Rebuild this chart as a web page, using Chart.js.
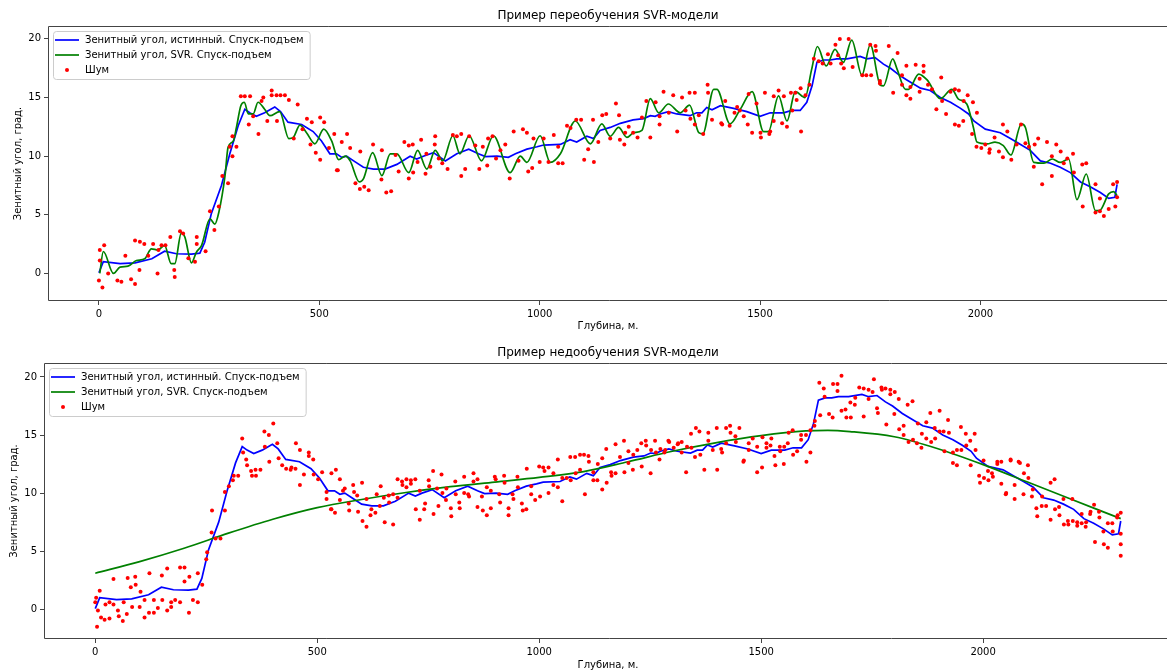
<!DOCTYPE html>
<html>
<head>
<meta charset="utf-8">
<script src="https://cdn.jsdelivr.net/npm/chart.js@4.4.0/dist/chart.umd.min.js"></script>
<style>
  html, body { margin: 0; padding: 0; background: #fff; overflow: hidden; }
  canvas { display: block; }
</style>
</head>
<body>
<canvas id="overChart" width="1172" height="336"></canvas>
<canvas id="underChart" width="1176" height="335"></canvas>
<script>
// axis ticks
var depthTicks = [0, 500, 1000, 1500, 2000];
var angleTicks = [0, 5, 10, 15, 20];

// true zenith angle along the well
var trueDepth = [0, 10, 48, 82, 120, 149, 176, 210, 229, 240, 255, 278, 297, 316, 331, 342, 357, 376, 399, 412,
  429, 460, 486, 505, 524, 539, 551, 562, 578, 600, 623, 649, 676, 706, 721, 736, 759, 786, 812, 839,
  861, 877, 903, 929, 945, 971, 994, 1009, 1047, 1069, 1084, 1107, 1122, 1137, 1160, 1183, 1212, 1236, 1251, 1262,
  1273, 1292, 1311, 1341, 1356, 1368, 1379, 1391, 1410, 1440, 1470, 1500, 1523, 1553, 1572, 1591, 1606, 1618, 1629, 1644,
  1659, 1674, 1697, 1727, 1742, 1761, 1780, 1796, 1818, 1833, 1864, 1886, 1909, 1932, 1954, 1973, 1985, 2011, 2045, 2068,
  2091, 2113, 2136, 2159, 2181, 2204, 2227, 2249, 2272, 2291, 2305, 2310];
var trueAngle = [0.06, 1.0, 0.83, 0.9, 1.25, 1.9, 1.68, 1.64, 1.73, 2.66, 5.1, 7.5, 10.2, 12.6, 14.0, 13.7, 13.4, 13.7, 14.2, 13.8,
  12.9, 12.7, 12.1, 11.3, 10.2, 10.2, 9.9, 10.0, 9.6, 9.05, 8.9, 8.9, 9.3, 10.0, 9.75, 10.0, 10.3, 9.6, 10.2, 10.6,
  10.2, 9.96, 10.0, 9.9, 10.2, 10.6, 10.8, 10.95, 11.0, 11.4, 11.2, 11.7, 11.5, 12.2, 12.45, 12.8, 13.1, 13.2, 13.45, 13.4,
  13.6, 13.8, 13.6, 13.45, 13.7, 13.7, 14.15, 13.96, 14.3, 14.07, 13.8, 13.4, 13.7, 13.7, 13.9, 13.9, 14.6, 16.0, 18.0, 18.2,
  18.2, 18.3, 18.3, 18.5, 18.3, 18.4, 17.85, 17.5, 16.85, 16.5, 15.8, 15.6, 15.0, 14.6, 14.1, 13.6, 13.0, 12.3, 12.0, 11.5,
  11.0, 10.5, 9.6, 9.4, 9.05, 8.6, 7.8, 7.4, 6.9, 6.4, 6.5, 7.6];

// SVR fit, overfitted model
var svrOverDepth = [2, 10, 33, 48, 66, 85, 104, 119, 134, 149, 164, 172, 187, 195, 210, 221, 233, 252, 263, 272,
  286, 293, 305, 312, 322, 330, 339, 350, 361, 376, 388, 410, 431, 441, 456, 471, 490, 510, 528, 544,
  559, 570, 591, 600, 621, 642, 661, 676, 703, 723, 744, 763, 780, 803, 819, 840, 868, 895, 933, 956,
  971, 1001, 1024, 1047, 1081, 1115, 1141, 1160, 1179, 1198, 1213, 1232, 1251, 1270, 1292, 1319, 1340, 1361, 1370, 1395,
  1402, 1432, 1455, 1482, 1508, 1519, 1542, 1561, 1580, 1602, 1617, 1630, 1650, 1670, 1689, 1708, 1731, 1750, 1773, 1780,
  1801, 1811, 1830, 1837, 1860, 1879, 1909, 1935, 1950, 1969, 1984, 1992, 2015, 2033, 2052, 2069, 2093, 2102, 2121, 2144,
  2163, 2181, 2200, 2219, 2240, 2261, 2270, 2291, 2302, 2310];
var svrOverAngle = [0.0, 1.87, 0.0, 0.54, 0.62, 1.1, 1.25, 2.1, 2.0, 2.4, 0.83, 0.83, 3.46, 3.1, 0.9, 1.8, 2.4, 4.65, 4.2, 5.2,
  8.3, 10.75, 11.3, 12.45, 14.3, 14.6, 13.6, 13.6, 14.6, 14.0, 13.45, 13.8, 11.5, 11.6, 12.65, 12.0, 11.05, 12.3, 11.3, 9.7,
  10.0, 9.6, 7.8, 8.06, 10.3, 8.34, 10.2, 10.2, 8.6, 10.5, 8.9, 10.5, 9.6, 11.74, 10.2, 11.74, 9.6, 11.74, 8.6, 10.0,
  9.47, 11.74, 9.47, 10.2, 13.0, 11.05, 12.75, 11.7, 12.45, 11.6, 12.0, 12.2, 14.9, 13.7, 14.45, 13.7, 14.35, 12.0, 11.9, 15.7,
  15.7, 12.75, 14.0, 15.5, 12.1, 12.1, 15.15, 13.0, 15.5, 15.0, 17.4, 19.35, 17.7, 19.1, 18.0, 19.9, 16.9, 19.5, 16.05, 16.0,
  18.3, 17.4, 15.7, 15.7, 17.0, 16.5, 14.9, 15.7, 14.87, 14.45, 12.45, 11.2, 11.05, 11.2, 10.9, 10.1, 12.75, 12.45, 9.47, 9.4,
  9.76, 9.47, 9.76, 6.3, 8.48, 5.36, 5.36, 6.78, 6.98, 6.64];

// SVR fit, underfitted model
var svrUnderDepth = [0, 100, 200, 300, 400, 500, 600, 700, 800, 900, 1000, 1100, 1200, 1300, 1400, 1500, 1600, 1650, 1700, 1800,
  1900, 2000, 2100, 2200, 2310];
var svrUnderAngle = [3.1, 4.1, 5.25, 6.55, 7.75, 8.75, 9.45, 10.05, 10.55, 10.95, 11.35, 11.85, 12.7, 13.6, 14.35, 14.95, 15.35, 15.4, 15.3, 14.85,
  13.8, 12.45, 10.95, 9.45, 7.8];

// noisy measurements [depth, angle]
var noiseOver = [
  [0,-0.6],[8,-1.2],[2,1.1],[2,2.0],[12,2.4],[21,0.0],[42,-0.6],[51,-0.7],[60,1.5],[73,-0.5],[82,-0.9],[82,2.8],[92,0.3],[93,2.7],[103,2.5],
  [112,1.5],[123,2.5],[133,0.0],[135,2.0],[142,2.4],[151,2.4],[162,3.1],[171,0.3],[172,-0.3],[184,3.6],[191,3.4],[203,1.3],[218,1.0],[222,3.1],
  [222,2.5],[242,1.9],[252,5.3],[262,3.7],[272,5.7],[280,8.3],[293,7.7],[297,10.8],[303,10.0],[303,11.7],[312,10.8],[322,15.1],[331,15.1],
  [343,15.1],[340,12.7],[350,13.4],[362,11.9],[369,14.7],[373,15.0],[382,13.0],[392,15.6],[392,15.2],[403,15.2],[404,13.0],[412,15.2],[422,15.2],
  [431,14.8],[442,11.5],[451,14.4],[462,12.3],[472,13.2],[480,11.0],[483,12.9],[492,10.3],[502,9.7],[502,13.3],[511,12.9],[522,10.7],[534,11.9],
  [540,8.8],[542,8.8],[551,11.2],[563,11.9],[570,10.7],[582,7.7],[592,7.2],[593,10.4],[602,7.4],[612,7.1],[622,11.0],[642,10.5],[641,8.0],
  [652,6.9],[663,7.0],[673,10.1],[680,8.7],[693,11.2],[703,10.9],[703,8.1],[712,11.0],[713,8.6],[723,9.5],[731,11.4],[741,8.5],[743,10.2],
  [752,9.1],[762,11.0],[763,11.7],[771,9.8],[779,9.4],[791,8.9],[803,11.8],[812,11.7],[822,11.9],[822,8.3],[831,8.9],[840,11.7],[854,10.9],
  [863,8.9],[871,10.8],[881,9.2],[883,11.5],[893,11.7],[901,9.8],[911,10.5],[922,11.0],[932,8.1],[941,12.1],[952,9.6],[962,12.3],[971,12.0],
  [974,8.7],[983,9.0],[986,11.5],[1000,9.5],[1009,11.5],[1020,9.5],[1032,11.8],[1042,9.4],[1042,10.8],[1052,9.4],[1062,12.6],[1070,12.4],
  [1083,13.1],[1094,13.1],[1101,9.7],[1110,10.6],[1121,13.1],[1123,9.5],[1133,11.2],[1142,13.5],[1151,13.6],[1160,11.5],[1173,14.5],[1180,13.5],
  [1182,11.4],[1192,11.0],[1194,12.0],[1202,12.5],[1212,12.0],[1222,11.6],[1232,13.3],[1242,14.7],[1251,11.6],[1263,14.6],[1272,12.7],[1272,13.4],
  [1281,15.5],[1293,13.7],[1303,15.2],[1312,12.1],[1323,15.0],[1331,13.9],[1340,15.4],[1342,13.2],[1352,15.4],[1352,12.7],[1361,13.5],[1371,11.9],
  [1381,16.1],[1382,15.4],[1391,13.1],[1412,12.8],[1414,12.7],[1421,14.7],[1431,12.6],[1442,13.7],[1448,14.2],[1454,13.9],[1463,13.4],[1472,12.7],
  [1474,15.3],[1482,12.0],[1492,14.5],[1501,12.0],[1502,11.6],[1511,15.4],[1521,11.9],[1523,12.1],[1531,15.1],[1531,13.0],[1542,15.6],[1550,12.8],
  [1554,15.1],[1561,12.5],[1570,15.4],[1573,13.9],[1580,15.4],[1583,14.8],[1592,15.8],[1593,12.1],[1603,15.2],[1612,16.1],[1622,18.3],[1633,18.1],
  [1642,17.9],[1654,18.7],[1660,17.9],[1671,19.5],[1677,18.6],[1681,20.0],[1684,17.9],[1690,17.5],[1701,20.0],[1710,17.6],[1732,16.9],[1741,16.9],
  [1752,16.9],[1750,19.5],[1762,19.4],[1763,19.0],[1772,16.4],[1772,16.2],[1792,19.4],[1802,15.4],[1812,18.8],[1822,16.9],[1822,16.1],[1832,17.7],
  [1832,15.2],[1841,14.9],[1841,15.9],[1853,17.8],[1862,15.5],[1862,16.6],[1871,17.7],[1871,17.2],[1881,16.1],[1890,15.7],[1900,14.0],[1911,16.7],
  [1913,14.7],[1922,13.6],[1932,15.5],[1942,15.7],[1942,12.7],[1951,15.6],[1951,12.6],[1961,13.0],[1962,14.7],[1971,15.2],[1981,11.9],[1983,14.6],
  [1992,13.7],[1991,10.8],[2002,10.7],[2011,11.0],[2021,10.6],[2020,10.3],[2032,11.6],[2042,10.4],[2051,12.7],[2051,9.9],[2061,12.1],[2070,9.7],
  [2082,11.0],[2092,12.7],[2102,11.1],[2110,10.8],[2121,9.1],[2123,11.0],[2131,11.5],[2140,7.6],[2151,11.2],[2162,10.0],[2162,8.3],[2172,11.0],
  [2182,10.4],[2189,9.4],[2197,9.8],[2210,10.2],[2212,8.6],[2231,9.3],[2232,5.7],[2240,9.4],[2261,7.6],[2261,5.2],[2271,6.4],[2271,5.3],
  [2280,4.9],[2291,5.5],[2301,7.6],[2306,5.7],[2310,7.8],[2310,6.5]
];
var noiseUnder = [
  [0,0.6],[2,1.0],[6,-0.1],[4,-1.5],[10,1.6],[13,-0.7],[21,-0.9],[23,0.4],[32,-0.8],[32,0.6],[41,2.6],[41,0.4],[51,-0.1],[53,-0.6],[62,-1.0],
  [64,0.6],[71,-0.4],[73,2.7],[80,1.9],[83,0.2],[90,2.8],[91,2.1],[102,1.5],[100,0.2],[111,0.8],[111,-0.7],[121,-0.3],[122,3.1],[132,0.8],
  [132,-0.3],[141,0.1],[150,2.9],[151,0.8],[162,3.5],[162,-0.1],[171,0.6],[171,0.2],[180,0.8],[191,3.6],[191,0.6],[201,3.6],[201,2.4],[212,2.8],
  [211,-0.3],[220,0.8],[231,3.1],[231,0.6],[241,2.1],[250,4.3],[252,4.9],[262,6.6],[263,8.5],[271,6.1],[282,6.1],[292,8.5],[292,10.1],[301,10.6],
  [310,11.1],[312,11.5],[322,11.5],[331,14.7],[333,13.5],[340,12.9],[342,12.4],[351,11.9],[353,11.5],[361,12.0],[362,11.5],[372,12.0],[381,15.3],
  [382,14.0],[391,15.0],[392,12.7],[401,16.0],[410,14.3],[413,13.0],[421,12.4],[430,12.1],[440,12.0],[442,12.2],[452,14.3],[451,12.1],[461,13.7],
  [461,10.7],[470,11.6],[481,13.5],[481,13.2],[491,12.9],[492,11.6],[502,11.2],[511,11.8],[521,10.1],[521,9.5],[531,8.6],
  [532,11.7],[532,8.6],[540,8.3],[542,12.0],[551,11.2],[551,9.4],[558,10.2],[562,10.4],[571,9.1],[572,8.5],[581,10.7],[583,10.1],[590,9.8],
  [592,8.4],[601,10.9],[602,7.6],[611,9.5],[611,7.1],[620,8.1],[622,8.6],[631,8.3],[634,9.9],[641,8.9],[643,10.6],[650,9.6],[652,7.5],[661,9.8],
  [662,9.2],[671,7.3],[671,9.9],[681,11.2],[681,9.6],[691,11.0],[692,10.7],[701,11.2],[701,10.5],[711,11.1],[711,10.8],[721,11.2],[722,8.6],
  [731,10.2],[731,7.7],[741,8.6],[743,9.1],[751,11.1],[752,10.6],[761,11.9],[762,8.2],[770,10.4],[773,8.9],[780,11.6],[782,10.0],[790,9.4],
  [791,10.4],[801,8.7],[802,8.0],[811,11.0],[812,9.9],[820,9.2],[821,8.7],[831,11.4],[831,10.0],[840,9.9],[842,9.7],[852,11.7],[852,11.0],
  [861,8.8],[861,11.2],[871,9.7],[873,8.5],[882,10.5],[882,8.1],[891,10.2],[891,8.7],[900,11.4],[902,11.2],[910,9.9],[912,9.2],[921,11.5],
  [922,10.9],[931,8.7],[931,8.1],[940,9.9],[942,9.5],[951,11.4],[952,10.5],[961,9.1],[963,8.5],[972,12.1],[971,8.6],[982,10.6],[982,9.9],
  [991,9.4],[1000,12.3],[1002,9.7],[1009,12.2],[1012,11.9],[1021,12.2],[1021,10.0],[1032,11.7],[1032,10.7],[1042,12.9],[1042,10.5],[1052,9.3],
  [1052,11.3],[1062,11.3],[1070,13.1],[1071,11.1],[1081,13.1],[1082,11.7],[1092,13.3],[1092,12.0],[1101,13.3],[1103,9.9],[1111,13.2],[1112,12.7],
  [1122,11.1],[1122,11.8],[1131,11.1],[1132,12.5],[1142,13.0],[1142,10.3],[1151,13.8],[1152,10.9],[1162,11.8],[1163,11.5],[1172,11.7],[1172,14.2],
  [1182,13.1],[1191,14.5],[1192,11.8],[1201,13.6],[1201,12.6],[1211,12.0],[1212,13.3],[1221,13.7],[1230,14.3],[1231,12.3],[1240,14.5],[1241,14.1],
  [1251,11.7],[1252,13.7],[1261,14.5],[1263,13.5],[1271,12.9],[1273,13.8],[1282,13.5],[1284,13.7],[1291,14.5],[1293,14.4],[1303,13.9],[1312,14.2],
  [1313,14.3],[1321,14.4],[1321,13.5],[1331,11.8],[1333,14.0],[1342,15.1],[1343,13.9],[1351,13.1],[1353,15.6],[1361,15.3],[1363,13.3],[1372,12.0],
  [1381,15.2],[1381,14.5],[1391,13.7],[1400,15.6],[1401,12.0],[1410,13.8],[1412,13.5],[1421,15.6],[1421,14.3],[1430,15.8],[1431,15.2],[1442,14.9],
  [1443,14.4],[1451,15.6],[1460,12.7],[1461,12.8],[1472,14.3],[1472,13.7],[1481,14.7],[1491,11.8],[1491,14.0],[1502,12.2],[1503,14.8],[1512,14.3],
  [1512,13.9],[1521,14.1],[1523,14.7],[1530,13.2],[1532,12.4],[1542,14.0],[1543,13.6],[1551,12.5],[1552,14.0],[1560,14.3],[1562,15.2],[1571,15.4],
  [1572,13.3],[1581,13.6],[1590,15.0],[1590,14.6],[1601,15.0],[1602,12.7],[1611,13.5],[1611,15.4],[1620,15.8],[1621,16.2],[1631,19.5],[1633,16.7],
  [1641,19.0],[1643,18.3],[1653,16.8],[1661,16.5],[1662,19.4],[1672,19.4],[1672,18.8],[1681,20.1],[1681,17.1],[1690,17.2],[1692,16.5],[1701,17.8],
  [1702,16.5],[1711,17.6],[1712,18.2],[1721,19.1],[1731,19.0],[1731,16.6],[1742,18.9],[1742,18.1],[1751,18.7],[1754,19.8],[1761,17.3],[1763,16.9],
  [1771,19.1],[1772,18.9],[1780,19.0],[1782,15.9],[1791,18.9],[1791,18.5],[1800,16.8],[1801,18.7],[1810,18.1],[1811,15.5],
  [1821,15.8],[1821,15.0],[1830,17.6],[1832,14.4],[1841,17.9],[1842,14.6],[1851,14.3],[1853,16.0],[1862,15.1],[1861,13.9],[1872,16.1],[1872,14.7],
  [1881,16.9],[1883,14.4],[1891,15.6],[1892,14.7],[1902,17.1],[1902,15.3],[1911,15.3],[1913,13.6],[1921,16.3],[1923,15.2],[1932,13.5],[1932,12.6],
  [1941,12.4],[1941,13.7],[1950,15.7],[1951,13.7],[1961,15.1],[1962,14.1],[1971,14.5],[1972,12.4],[1981,15.1],[1983,13.7],[1991,11.5],[1993,10.9],
  [2001,12.8],[2002,11.3],[2011,11.9],[2012,11.1],[2020,11.7],[2022,11.4],[2032,12.7],[2032,12.5],[2041,12.7],[2041,10.8],[2051,9.9],[2052,10.0],
  [2062,12.9],[2062,12.8],[2071,10.7],[2071,9.5],[2080,12.7],[2083,12.6],[2091,9.9],[2092,11.7],[2101,12.4],[2102,11.3],[2110,9.7],[2112,10.3],
  [2120,8.7],[2122,8.0],[2132,8.9],[2133,9.7],[2142,8.9],[2152,7.7],[2152,10.9],[2161,11.2],[2162,8.6],[2171,8.8],[2172,8.1],[2181,9.5],
  [2182,7.3],[2191,7.6],[2192,7.3],[2201,9.5],[2202,7.6],[2212,7.5],[2212,7.2],[2222,8.2],[2222,7.4],[2231,7.1],[2232,7.5],[2241,8.2],
  [2242,8.4],[2250,9.0],[2252,5.8],[2261,8.4],[2262,7.9],[2271,6.7],[2272,5.6],[2281,7.4],[2281,5.3],[2291,7.4],[2292,6.7],[2302,7.9],
  [2303,8.1],[2310,4.6],[2310,5.6],[2310,8.3],[2310,6.5]
];

var FONT = "'DejaVu Sans', sans-serif";
Chart.defaults.font.family = FONT;
Chart.defaults.font.size = 10;
Chart.defaults.color = '#000';

function toPoints(xs, ys) {
    return xs.map(function(x, i) { return {x: x, y: ys[i]}; });
}
function pairsToPoints(list) {
    return list.map(function(p) { return {x: p[0], y: p[1]}; });
}

// spines, title and in-axes legend
function boxPlugin(titleText) {
    return {
        id: 'boxPlugin',
        afterDraw: function(chart) {
            var ctx = chart.ctx, a = chart.chartArea;
            var l = Math.round(a.left) + 0.5, t = Math.round(a.top) + 0.5, b = Math.round(a.bottom) - 0.5;
            ctx.save();
            ctx.strokeStyle = '#444';
            ctx.lineWidth = 1;
            // right spine runs past the page edge, so only three sides
            ctx.beginPath();
            ctx.moveTo(a.right + 2, t);
            ctx.lineTo(l, t);
            ctx.lineTo(l, b);
            ctx.lineTo(a.right + 2, b);
            ctx.stroke();

            ctx.fillStyle = '#000';
            ctx.font = '12px ' + FONT;
            ctx.textAlign = 'center';
            ctx.textBaseline = 'middle';
            ctx.fillText(titleText, (a.left + a.right) / 2, a.top - 10.5);

            // legend
            var sets = chart.data.datasets;
            ctx.font = '10px ' + FONT;
            var maxW = 0;
            sets.forEach(function(ds) { maxW = Math.max(maxW, ctx.measureText(ds.label).width); });
            var bx = a.left + 5, by = a.top + 5;
            var bw = 32 + maxW + 6, bh = 48;
            ctx.beginPath();
            if (ctx.roundRect) ctx.roundRect(bx + 0.5, by + 0.5, bw, bh, 3);
            else ctx.rect(bx + 0.5, by + 0.5, bw, bh);
            ctx.fillStyle = 'rgba(255,255,255,0.8)';
            ctx.fill();
            ctx.strokeStyle = '#cccccc';
            ctx.stroke();
            sets.forEach(function(ds, i) {
                var ry = a.top + 14 + 15 * i;
                if (ds.showLine) {
                    ctx.beginPath();
                    ctx.moveTo(a.left + 7, ry);
                    ctx.lineTo(a.left + 31, ry);
                    ctx.strokeStyle = ds.borderColor;
                    ctx.lineWidth = ds.borderWidth;
                    ctx.stroke();
                } else {
                    ctx.beginPath();
                    ctx.arc(a.left + 19, ry, 2, 0, Math.PI * 2);
                    ctx.fillStyle = ds.pointBackgroundColor;
                    ctx.fill();
                }
                ctx.fillStyle = '#000';
                ctx.textAlign = 'left';
                ctx.fillText(ds.label, a.left + 37, ry);
            });
            ctx.restore();
        }
    };
}

function makeChart(id, cfg) {
    var ctx = document.getElementById(id).getContext('2d');
    return new Chart(ctx, {
        type: 'scatter',
        data: {
            datasets: [
                {label: 'Зенитный угол, истинный. Спуск-подъем', data: toPoints(trueDepth, trueAngle),
                 showLine: true, borderColor: '#0000ff', borderWidth: 1.7, pointRadius: 0, order: 3},
                {label: 'Зенитный угол, SVR. Спуск-подъем', data: cfg.svr,
                 showLine: true, borderColor: '#008000', borderWidth: 1.7, pointRadius: 0,
                 cubicInterpolationMode: 'monotone', order: 2},
                {label: 'Шум', data: cfg.noise, showLine: false, pointRadius: 2,
                 pointBackgroundColor: '#ff0000', pointBorderColor: '#ff0000', pointBorderWidth: 0, order: 1}
            ]
        },
        options: {
            responsive: false,
            devicePixelRatio: 1,
            animation: false,
            events: [],
            layout: {padding: {top: cfg.top, left: 0, right: 0, bottom: 0}},
            plugins: {legend: {display: false}, tooltip: {enabled: false}, title: {display: false}},
            scales: {
                x: {
                    type: 'linear', min: -115.5, max: 2425.5,
                    afterBuildTicks: function(s) { s.ticks = depthTicks.map(function(v) { return {value: v}; }); },
                    afterFit: function(s) { s.height = cfg.xHeight; },
                    grid: {drawOnChartArea: false, drawTicks: true, tickLength: 4, tickColor: '#444'},
                    border: {display: false},
                    ticks: {padding: 3, color: '#000', maxRotation: 0, autoSkip: false,
                            callback: function(v) { return String(v); }},
                    title: {display: true, text: 'Глубина, м.', color: '#000',
                            padding: {top: 0, bottom: cfg.xTitlePad}}
                },
                y: {
                    type: 'linear', min: cfg.yMin, max: cfg.yMax,
                    afterBuildTicks: function(s) { s.ticks = angleTicks.map(function(v) { return {value: v}; }); },
                    afterFit: function(s) { s.width = cfg.yWidth; },
                    grid: {drawOnChartArea: false, drawTicks: true, tickLength: 4, tickColor: '#444'},
                    border: {display: false},
                    ticks: {padding: 3, color: '#000', callback: function(v) { return String(v); }},
                    title: {display: true, text: 'Зенитный угол, град.', color: '#000',
                            padding: {top: cfg.yTitlePad, bottom: 0}}
                }
            }
        },
        plugins: [boxPlugin(cfg.title)]
    });
}

makeChart('overChart', {
    title: 'Пример переобучения SVR-модели',
    svr: toPoints(svrOverDepth, svrOverAngle),
    noise: pairsToPoints(noiseOver),
    top: 26, xHeight: 35, yWidth: 48, xTitlePad: 4, yTitlePad: 12,
    yMin: -2.35, yMax: 21.1
});
makeChart('underChart', {
    title: 'Пример недообучения SVR-модели',
    svr: toPoints(svrUnderDepth, svrUnderAngle),
    noise: pairsToPoints(noiseUnder),
    top: 27, xHeight: 32, yWidth: 44, xTitlePad: 0, yTitlePad: 8,
    yMin: -2.56, yMax: 21.2
});
</script>
</body>
</html>
